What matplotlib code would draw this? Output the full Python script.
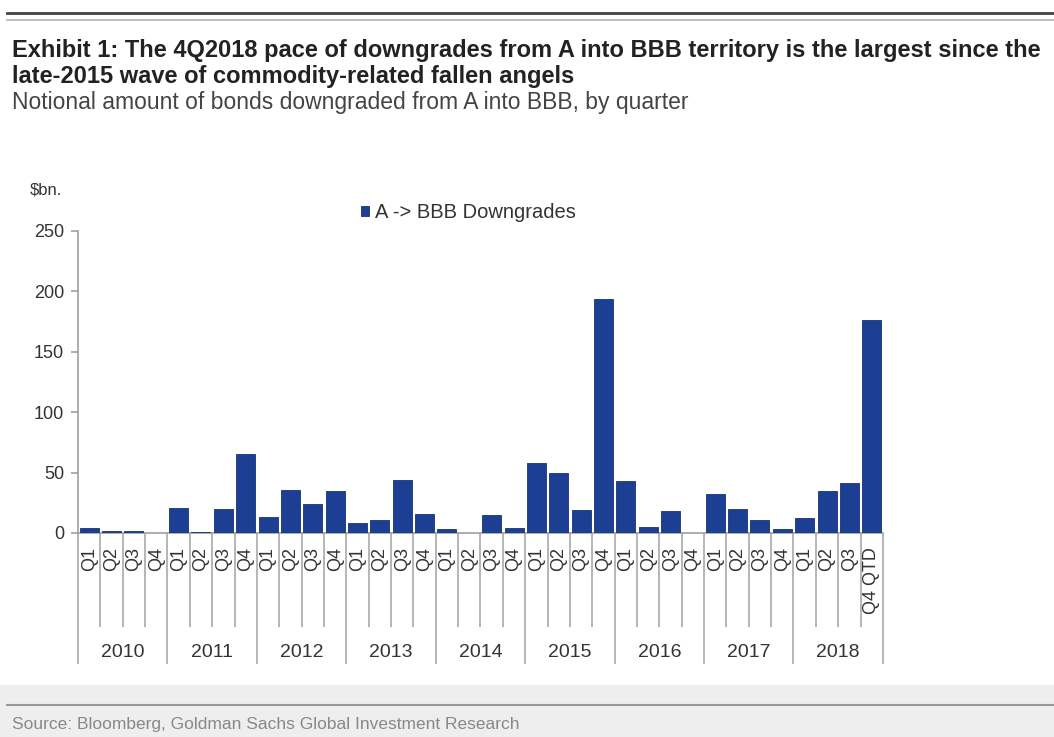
import matplotlib
matplotlib.use('Agg')
import matplotlib.pyplot as plt
from matplotlib.lines import Line2D
from matplotlib.patches import Rectangle

# data ($bn, by quarter)
years = ['2010', '2011', '2012', '2013', '2014', '2015', '2016', '2017', '2018']
quarters = ['Q1', 'Q2', 'Q3', 'Q4']
q_labels = quarters * 8 + ['Q1', 'Q2', 'Q3', 'Q4 QTD']
downgrades = [4, 1.5, 1.5, 0,
              21, 1, 20, 65,
              13, 36, 24, 35,
              8, 10.5, 44, 16,
              3.5, 0, 15, 4,
              58, 50, 19, 194,
              43, 5, 18.5, 0,
              32, 20, 11, 3,
              12.5, 35, 41, 176]

bar_color = '#1c3f94'
text_color = '#333333'
axis_color = '#a0a0a0'
plt.rcParams['font.family'] = ['Liberation Sans', 'DejaVu Sans']

fig = plt.figure(figsize=(10.54, 7.37), dpi=100)

# header lines and titles
fig.add_artist(Line2D([0.007, 1], [0.983, 0.983], color='#444444', lw=2))
fig.add_artist(Line2D([0.007, 1], [0.973, 0.973], color='#b0b0b0', lw=1.2))
fig.text(0.011, 0.923, 'Exhibit 1: The 4Q2018 pace of downgrades from A into BBB territory is the largest since the',
         weight='bold', fontsize=17, color='#222222', va='baseline')
fig.text(0.011, 0.888, 'late-2015 wave of commodity-related fallen angels',
         weight='bold', fontsize=17, color='#222222', va='baseline')
fig.text(0.011, 0.852, 'Notional amount of bonds downgraded from A into BBB, by quarter',
         fontsize=16.5, color='#444444', va='baseline')

# footer band
fig.add_artist(Rectangle((0, 0), 1, 0.071, transform=fig.transFigure, color='#eeeeee', zorder=0))
fig.add_artist(Line2D([0.007, 1], [0.043, 0.043], color='#999999', lw=1.5))
fig.text(0.011, 0.011, 'Source: Bloomberg, Goldman Sachs Global Investment Research',
         fontsize=12.5, color='#888888', va='baseline')

ax = fig.add_axes([0.074, 0.2768, 0.7637, 0.4098])
x = list(range(len(downgrades)))
ax.bar(x, downgrades, width=0.85, color=bar_color, edgecolor='#163278', linewidth=0.6,
       label='A -> BBB Downgrades', zorder=3)

ax.set_xlim(-0.5, len(downgrades) - 0.5)
ax.set_ylim(0, 250)
ax.set_yticks([0, 50, 100, 150, 200, 250])
ax.tick_params(axis='y', length=5, width=1.2, color=axis_color, labelsize=13,
               labelcolor=text_color, pad=5)

for s in ['top', 'right']:
    ax.spines[s].set_visible(False)
for s in ['left', 'bottom']:
    ax.spines[s].set_color(axis_color)
    ax.spines[s].set_linewidth(1.2)

# category separators: long ones between years, short ones between quarters
year_edges = [i * 4 - 0.5 for i in range(len(years) + 1)]
quarter_edges = [i - 0.5 for i in range(len(downgrades) + 1) if i % 4 != 0]
ax.set_xticks(year_edges)
ax.set_xticks(quarter_edges, minor=True)
ax.set_xticklabels([])
ax.tick_params(axis='x', which='major', length=94, width=1.4, color='#b5b5b5')
ax.tick_params(axis='x', which='minor', length=68, width=1.4, color='#b5b5b5')

for i, q in enumerate(q_labels):
    ax.annotate(q, xy=(i, 0), xycoords=('data', 'axes fraction'), xytext=(0, -10),
                textcoords='offset points', rotation=90, ha='center', va='top',
                fontsize=13, color=text_color)
for k, y in enumerate(years):
    ax.annotate(y, xy=(k * 4 + 1.5, 0), xycoords=('data', 'axes fraction'), xytext=(0, -86),
                textcoords='offset points', ha='center', va='center',
                fontsize=14, color=text_color)

ax.text(-0.06, 1.135, '$bn.', transform=ax.transAxes, fontsize=12, color=text_color,
        ha='left', va='center')

ax.legend(loc='center', bbox_to_anchor=(0.485, 1.06), frameon=False, fontsize=14.5,
          handlelength=0.4, handleheight=0.4, handletextpad=0.3, labelcolor=text_color)

fig.savefig('out.png', dpi=100)
